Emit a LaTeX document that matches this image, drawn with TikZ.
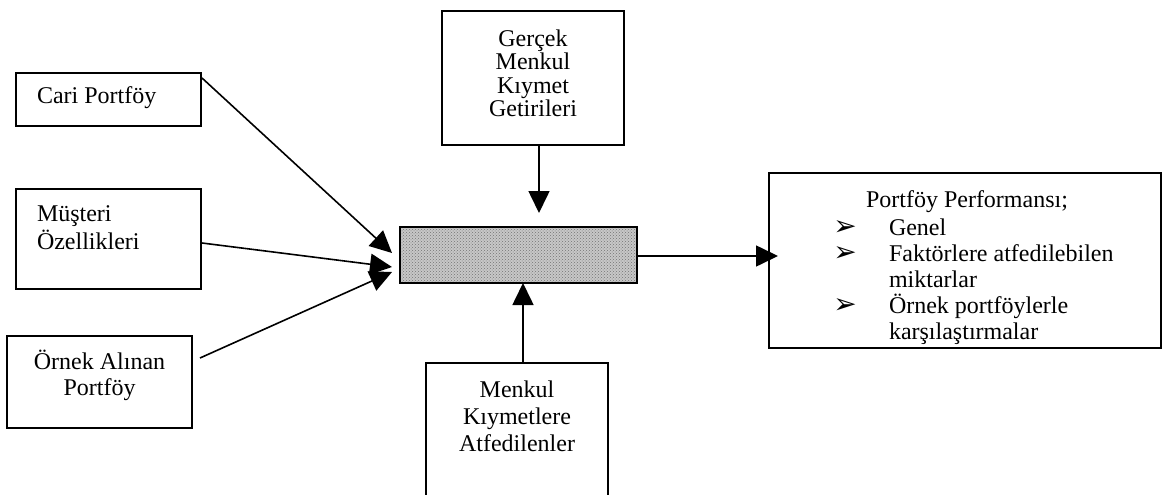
\documentclass[tikz,border=0pt]{standalone}
\usepackage{fontspec}
\setmainfont{Liberation Serif}
\newfontfamily\dingfont{DejaVu Sans}
\usetikzlibrary{arrows.meta,calc,patterns}

\begin{document}
\begin{tikzpicture}[x=1pt,y=-1pt,
  box/.style={draw=black, line width=1.4pt, inner sep=0pt, outer sep=0pt},
  txt/.style={font=\fontsize{24}{28}\selectfont, inner sep=0pt, outer sep=0pt},
  bul/.style={font=\dingfont\fontsize{28}{28}\selectfont, inner sep=0pt, anchor=base},
  arr/.style={line width=1.6pt, -{Triangle[length=22pt,width=21pt]}}]

\useasboundingbox (0,0) rectangle (1165,495);
\clip (0,0) rectangle (1165,495);

% input boxes on the left
\node[box, minimum width=185pt, minimum height=53pt] (cari) at (108.5,99.5) {};
\node[box, minimum width=185pt, minimum height=100pt] (must) at (108.5,239) {};
\node[box, minimum width=185pt, minimum height=92pt] (orn) at (99.5,382) {};

% top and bottom boxes
\node[box, minimum width=182pt, minimum height=134pt] (gercek) at (533,78) {};
\node[box, minimum width=182pt, minimum height=170pt] (menkul) at (517,448) {};

% central dithered bar
\node[draw=black, line width=1.8pt, inner sep=0pt, outer sep=0pt,
      minimum width=237pt, minimum height=56pt,
      preaction={fill=black!22}, pattern=crosshatch dots, pattern color=black!55] (core) at (518.5,255) {};

% output box
\node[box, minimum width=392pt, minimum height=175pt] (perf) at (965,260.5) {};

% texts
\node[txt, anchor=base west] (cariT) at (37,103) {Cari Portföy};
\node[txt, anchor=base west] (mustA) at (37,221) {Müşteri};
\node[txt, anchor=base west] (mustB) at (37,249) {Özellikleri};
\node[txt, anchor=base] (ornA) at (99.5,369) {Örnek Alınan};
\node[txt, anchor=base] (ornB) at (99.5,395) {Portföy};

\node[txt, anchor=base] (gerA) at (533,47) {Gerçek};
\node[txt, anchor=base] (gerB) at (533,70) {Menkul};
\node[txt, anchor=base] (gerC) at (533,93) {Kıymet};
\node[txt, anchor=base] (gerD) at (533,116) {Getirileri};

\node[txt, anchor=base] (menA) at (517,397) {Menkul};
\node[txt, anchor=base] (menB) at (517,424) {Kıymetlere};
\node[txt, anchor=base] (menC) at (517,451) {Atfedilenler};

\node[txt, anchor=base west] (perfT) at (866,207) {Portföy Performansı;};
\node[bul] (b1) at (845,235) {➢};
\node[txt, anchor=base west] (perfA) at (889,235) {Genel};
\node[bul] (b2) at (845,261) {➢};
\node[txt, anchor=base west] (perfB) at (889,261) {Faktörlere atfedilebilen};
\node[txt, anchor=base west] (perfC) at (889,287) {miktarlar};
\node[bul] (b3) at (845,313) {➢};
\node[txt, anchor=base west] (perfD) at (889,313) {Örnek portföylerle};
\node[txt, anchor=base west] (perfE) at (889,339) {karşılaştırmalar};

% connectors
\coordinate (upTip) at ($(core.south)+(4.5,0)$);
\draw[arr] ($(cari.north east)+(1,5)$) -- ($(core.west)+(-8,-2)$);
\draw[arr] ($(must.east)+(1,4)$) -- ($(core.west)+(-8,12)$);
\draw[arr] ($(orn.east)+(8,-24)$) -- ($(core.west)+(-8,17)$);
\draw[arr] ($(gercek.south)+(6,0)$) -- ($(core.north)+(20.5,-14)$);
\draw[arr] (menkul.north -| upTip) -- (upTip);
\draw[arr] ($(core.east)+(0,1)$) -- ($(perf.west)+(9,-4.5)$);

\end{tikzpicture}
\end{document}
